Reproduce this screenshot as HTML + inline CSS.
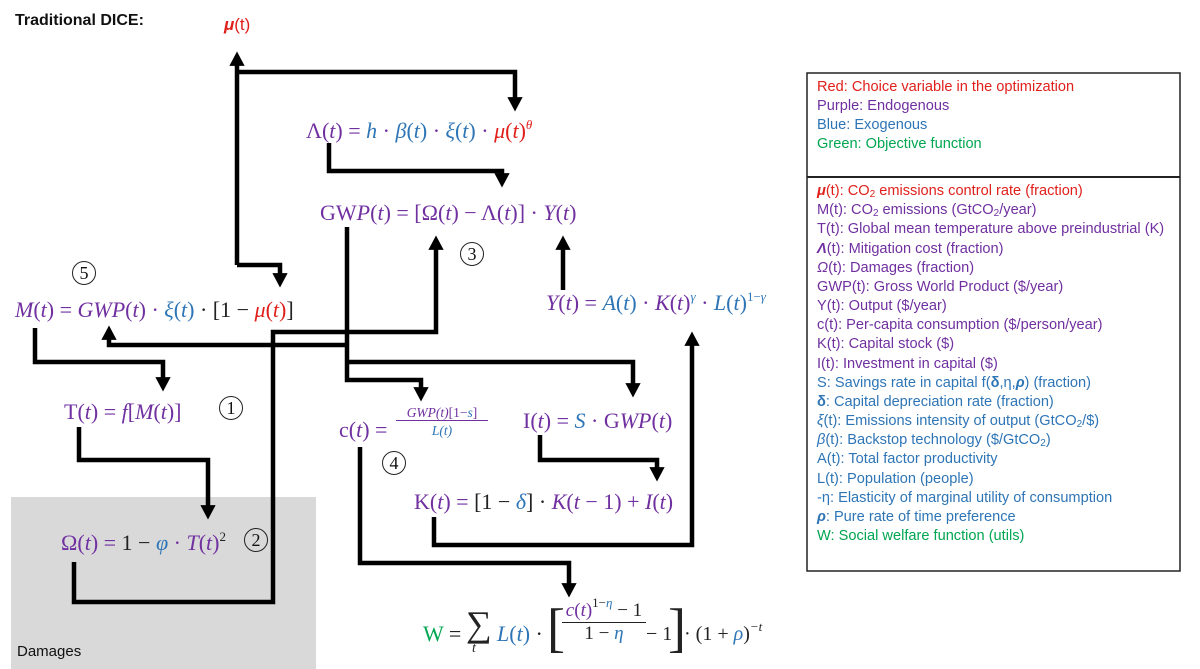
<!DOCTYPE html>
<html><head><meta charset="utf-8"><style>
body{margin:0;width:1200px;height:669px;position:relative;background:#fff;overflow:hidden;font-family:"Liberation Serif",serif}
.e{position:absolute;font-size:22px;white-space:nowrap;line-height:24px;color:#7030a0}
.i{font-style:italic}
.p{color:#7030a0}.b{color:#2e75b6}.r{color:#e0201b}.g{color:#00a650}.k{color:#222}
.n{position:absolute;width:22px;height:22px;border:1.2px solid #222;border-radius:50%;font-size:18px;color:#111;line-height:22px;text-align:center;font-family:"Liberation Serif",serif}
.lg{position:absolute;left:817px;font-family:"Liberation Sans",sans-serif;font-size:14.6px;line-height:19.2px;white-space:nowrap}
sup{font-size:13px;vertical-align:9px;line-height:0}
sub{font-size:10px;vertical-align:-2px;line-height:0}
</style></head><body>
<div style="position:absolute;left:11px;top:497px;width:305px;height:172px;background:#d9d9d9"></div>
<div style="position:absolute;left:17px;top:643px;font-family:'Liberation Sans',sans-serif;font-size:15px;color:#111">Damages</div>
<div style="position:absolute;left:15px;top:12px;font-family:'Liberation Sans',sans-serif;font-size:16px;font-weight:bold;color:#111">Traditional DICE:</div>
<div style="position:absolute;left:224px;top:15px;font-family:'Liberation Sans',sans-serif;font-size:17px;color:#e0201b"><b><i>μ</i></b>(t)</div>

<svg width="1200" height="669" style="position:absolute;left:0;top:0">
<defs><marker id="a" markerWidth="4" markerHeight="4" refX="2.2" refY="2" orient="auto" markerUnits="strokeWidth"><path d="M0,0.3 L3.2,2 L0,3.7 z" fill="#000"/></marker></defs>
<g fill="none" stroke="#000" stroke-width="4.5" stroke-linejoin="miter">
<polyline points="237,265 237,56" marker-end="url(#a)"/>
<polyline points="237,72 515,72 515,107" marker-end="url(#a)"/>
<polyline points="237,265 280,265 280,283" marker-end="url(#a)"/>
<polyline points="329,143 329,171 502,171 502,183" marker-end="url(#a)"/>
<polyline points="74,562 74,602 273,602 273,332 436,332 436,240" marker-end="url(#a)"/>
<polyline points="563,290 563,240" marker-end="url(#a)"/>
<polyline points="347,227 347,380 421,380 421,397" marker-end="url(#a)"/>
<polyline points="347,362 633,362 633,393" marker-end="url(#a)"/>
<polyline points="347,345 109,345 109,330" marker-end="url(#a)"/>
<polyline points="35,328 35,362 163,362 163,387" marker-end="url(#a)"/>
<polyline points="79,427 79,460 208,460 208,515" marker-end="url(#a)"/>
<polyline points="540,435 540,460 657,460 657,477" marker-end="url(#a)"/>
<polyline points="434,517 434,545 692,545 692,336" marker-end="url(#a)"/>
<polyline points="360,447 360,563 569,563 569,593" marker-end="url(#a)"/>
</g>
<rect x="807" y="73" width="373" height="498" fill="none" stroke="#222" stroke-width="1.5"/>
<line x1="807" y1="177" x2="1180" y2="177" stroke="#222" stroke-width="2"/>
</svg>

<div class="e" style="left:306px;top:119px"><span class="p">Λ(<i>t</i>) = </span><i class="b">h</i> · <i class="b">β</i><span class="b">(<i>t</i>)</span> · <i class="b">ξ</i><span class="b">(<i>t</i>)</span> · <span class="r"><i>μ</i>(<i>t</i>)<sup><i>θ</i></sup></span></div>
<div class="e" style="left:320px;top:201px">GW<i>P</i>(<i>t</i>) = [Ω(<i>t</i>) − Λ(<i>t</i>)] · <i>Y</i>(<i>t</i>)</div>
<div class="n" style="left:460px;top:242px">3</div>
<div class="n" style="left:72px;top:261px">5</div>
<div class="e" style="left:15px;top:298px"><i>M</i>(<i>t</i>) = <i>GWP</i>(<i>t</i>) · <span class="b"><i>ξ</i>(<i>t</i>)</span> <span class="k">· [1 − </span><span class="r"><i>μ</i>(<i>t</i>)</span><span class="k">]</span></div>
<div class="e" style="left:546px;top:291px"><i>Y</i>(<i>t</i>) = <span class="b"><i>A</i>(<i>t</i>)</span> · <i>K</i>(<i>t</i>)<sup><i class="b">γ</i></sup> · <span class="b"><i>L</i>(<i>t</i>)<sup>1−<i>γ</i></sup></span></div>
<div class="e" style="left:64px;top:400px">T(<i>t</i>) = <i>f</i>[<i>M</i>(<i>t</i>)]</div>
<div class="n" style="left:219px;top:396px">1</div>
<div class="e" style="left:339px;top:418px">c(<i>t</i>) = </div>
<div style="position:absolute;left:396px;top:405px;width:92px;text-align:center;font-size:13.5px;line-height:15px;color:#7030a0;font-style:italic;font-family:'Liberation Serif',serif"><div style="border-bottom:1px solid #7030a0">GWP(t)<span style="font-style:normal">[1−</span><span class="b">s</span><span style="font-style:normal">]</span></div><div class="b" style="margin-top:2px">L(t)</div></div>
<div class="n" style="left:382px;top:451px">4</div>
<div class="e" style="left:523px;top:409px">I(<i>t</i>) = <i class="b">S</i> · G<i>WP</i>(<i>t</i>)</div>
<div class="e" style="left:414px;top:490px">K(<i>t</i>) = <span class="k">[1 − </span><i class="b">δ</i><span class="k">] · </span><i>K</i>(<i>t</i> − 1) + <i>I</i>(<i>t</i>)</div>
<div class="e" style="left:61px;top:531px">Ω(<i>t</i>) = <span class="k">1 − </span><i class="b">φ</i> · <i>T</i>(<i>t</i>)<sup class="k">2</sup></div>
<div class="n" style="left:244px;top:528px">2</div>

<div class="e" style="left:423px;top:622px"><span class="g">W</span><span class="k"> = </span></div>
<div style="position:absolute;left:466px;top:606px;font-size:36px;line-height:36px;color:#222">∑</div>
<div style="position:absolute;left:472px;top:641px;font-size:14px;font-style:italic;color:#222">t</div>
<div class="e" style="left:497px;top:622px"><span class="b"><i>L</i>(<i>t</i>)</span><span class="k"> · </span></div>
<div style="position:absolute;left:547px;top:601px;font-size:54px;line-height:54px;color:#222">[</div>
<div style="position:absolute;left:562px;top:600px;width:84px;text-align:center;font-size:19px;line-height:22px;color:#222"><div style="border-bottom:1.5px solid #222"><i class="p">c</i><span class="p">(<i>t</i>)</span><sup>1−<i class="b">η</i></sup> − 1</div><div>1 − <i class="b">η</i></div></div>
<div class="e k" style="left:646px;top:622px;font-size:20px">− 1</div>
<div style="position:absolute;left:668px;top:601px;font-size:54px;line-height:54px;color:#222">]</div>
<div class="e k" style="left:684px;top:622px;font-size:20px">· (1 + <i class="b">ρ</i>)<sup><i>−t</i></sup></div>

<div class="lg" style="top:78px;color:#e0201b">Red: Choice variable in the optimization</div>
<div class="lg" style="top:97px;color:#7030a0">Purple: Endogenous</div>
<div class="lg" style="top:116px;color:#2e75b6">Blue: Exogenous</div>
<div class="lg" style="top:135px;color:#00a650">Green: Objective function</div>
<div class="lg" style="top:182px;line-height:19.17px">
<div style="color:#e0201b"><b><i>μ</i></b>(t): CO<sub>2</sub> emissions control rate (fraction)</div>
<div style="color:#7030a0">M(t): CO<sub>2</sub> emissions (GtCO<sub>2</sub>/year)</div>
<div style="color:#7030a0">T(t): Global mean temperature above preindustrial (K)</div>
<div style="color:#7030a0"><b><i>Λ</i></b>(t): Mitigation cost (fraction)</div>
<div style="color:#7030a0"><i>Ω</i>(t): Damages (fraction)</div>
<div style="color:#7030a0">GWP(t): Gross World Product ($/year)</div>
<div style="color:#7030a0">Y(t): Output ($/year)</div>
<div style="color:#7030a0">c(t): Per-capita consumption ($/person/year)</div>
<div style="color:#7030a0">K(t): Capital stock ($)</div>
<div style="color:#7030a0">I(t): Investment in capital ($)</div>
<div style="color:#2e75b6">S: Savings rate in capital f(<b>δ</b>,η,<b><i>ρ</i></b>) (fraction)</div>
<div style="color:#2e75b6"><b>δ</b>: Capital depreciation rate (fraction)</div>
<div style="color:#2e75b6"><i>ξ</i>(t): Emissions intensity of output (GtCO<sub>2</sub>/$)</div>
<div style="color:#2e75b6"><i>β</i>(t): Backstop technology ($/GtCO<sub>2</sub>)</div>
<div style="color:#2e75b6">A(t): Total factor productivity</div>
<div style="color:#2e75b6">L(t): Population (people)</div>
<div style="color:#2e75b6">-η: Elasticity of marginal utility of consumption</div>
<div style="color:#2e75b6"><b><i>ρ</i></b>: Pure rate of time preference</div>
<div style="color:#00a650">W: Social welfare function (utils)</div>
</div>
</body></html>
